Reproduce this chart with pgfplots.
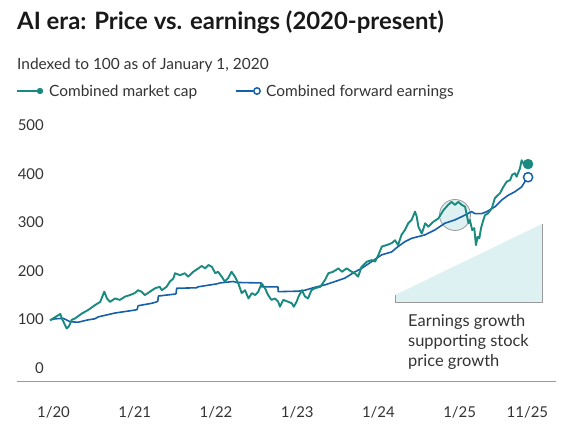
\documentclass[border=0pt]{standalone}
\usepackage{pgfplots}
\pgfplotsset{compat=1.18}
\usepackage{fontspec}
\setmainfont{Lato}
\definecolor{mgreen}{HTML}{1A8A7F}
\definecolor{mblue}{HTML}{1660A9}
\definecolor{tri}{HTML}{DDF0F2}
\definecolor{lgray}{HTML}{9A9A9A}
\definecolor{txt}{HTML}{333333}
\begin{document}
\begin{tikzpicture}
\useasboundingbox (-17bp,-48bp) rectangle (555bp,381bp);
% highlight circle and triangle (behind the lines)
\fill[tri] (378bp,86bp) -- (525bp,157bp) -- (525bp,79bp) -- (378bp,79bp) -- cycle;
\draw[lgray, line width=0.8bp] (378bp,86bp) -- (378bp,79bp) -- (525bp,79bp) -- (525bp,157bp);
\draw[lgray, fill=tri, line width=0.8bp] (438bp,166bp) circle[radius=15.5bp];
\begin{axis}[
  at={(0,0)}, anchor=south west,
  x=6.77bp, y=0.485bp,
  xmin=-5.39, xmax=74.2, ymin=-27.2, ymax=521,
  axis x line*=bottom, axis y line*=left,
  x axis line style={lgray, line width=0.8bp, -},
  y axis line style={draw=none},
  major tick length=0pt,
  xtick={0,12,24,36,48,60,70},
  xticklabels={1/20,1/21,1/22,1/23,1/24,1/25,11/25},
  ytick={0,100,200,300,400,500},
  yticklabels={0,100,200,300,400,500},
  ticklabel style={font=\fontsize{15}{18}\selectfont, text=txt, inner sep=0pt},
  xticklabel style={anchor=base, yshift=-36bp},
  yticklabel style={anchor=base east, xshift=27bp, yshift=-5.5bp},
  clip=false,
]
\addplot[mblue, line width=1.6bp, line join=round] coordinates {
(-0.5,98.6) (0.2,101) (1.45,102) (2.45,95) (3.65,94) (5.15,99) (6.1,101) (6.6,105) (9.1,113) (12.0,119) (12.35,120) (12.5,128) (14.5,133) (15.25,136) (15.4,137) (15.5,148) (17.95,152) (18.1,153) (18.2,164) (21.15,165) (21.35,167) (24.1,173) (24.6,175) (26.55,178) (27.05,176) (30.5,175) (30.65,175) (30.75,167) (32.95,167) (33.15,167) (33.2,157) (36.15,158) (37.15,160) (38.6,166) (40.1,171) (41.6,178) (43.05,185) (44.55,198) (45.5,205) (47.0,219) (48.5,233) (49.95,239) (50.9,250) (51.9,260) (52.9,267) (54.85,274) (56.3,284) (57.8,298) (59.3,305) (60.8,315) (61.75,322) (62.25,318) (63.25,318) (64.0,322) (65.2,332) (66.2,346) (67.2,356) (68.15,363) (69.15,373) (69.65,384) (70.1,393)
};
\addplot[mgreen, line width=1.9bp, line join=round] coordinates {
(-0.5,98) (0.2,104) (1.0,111) (1.3,100) (1.95,81) (2.3,86) (2.7,99) (3.2,102) (4.2,112) (5.1,119) (6.1,129) (6.9,136) (7.5,157) (7.9,143) (8.35,136) (9.1,143) (9.8,140) (10.6,147) (11.3,150) (12.0,154) (12.5,160) (13.0,157) (13.5,150) (14.25,157) (15.0,164) (15.7,167) (16.0,160) (16.7,167) (17.2,178) (17.7,184) (17.95,195) (18.7,191) (19.4,195) (19.9,188) (20.65,198) (21.4,205) (21.9,210) (22.4,205) (22.9,212) (23.4,208) (23.9,195) (24.3,198) (24.85,188) (25.3,178) (25.8,185) (26.3,198) (26.8,188) (27.3,174) (27.8,154) (28.3,160) (28.8,143) (29.3,154) (29.8,150) (30.25,157) (30.75,174) (31.25,164) (31.7,150) (32.2,140) (32.7,143) (33.2,136) (33.45,126) (33.95,140) (34.7,136) (35.2,133) (35.5,126) (35.9,136) (36.2,147) (36.7,160) (37.15,147) (37.6,143) (38.1,160) (38.6,164) (39.4,167) (40.1,181) (40.6,195) (41.3,198) (42.1,205) (42.6,198) (43.3,205) (44.05,198) (44.5,195) (45.0,188) (45.5,208) (46.3,219) (47.0,222) (47.5,219) (48.0,233) (48.5,250) (49.2,253) (49.95,257) (50.45,263) (50.9,253) (51.4,274) (51.9,284) (52.4,298) (52.9,305) (53.4,322) (53.65,312) (53.9,291) (54.4,277) (54.9,298) (55.35,291) (56.1,301) (56.85,308) (57.6,325) (58.3,336) (58.8,342) (59.3,336) (59.8,342) (60.3,336) (60.8,332) (61.0,318) (61.3,298) (61.5,305) (61.85,284) (62.15,288) (62.4,253) (62.65,270) (62.9,267) (63.15,288) (63.5,305) (63.75,315) (64.15,318) (64.75,329) (65.2,350) (65.95,360) (66.45,373) (66.95,384) (67.45,387) (67.75,398) (68.15,401) (68.4,394) (68.9,411) (69.15,428) (69.55,418) (70.1,420)
};
\addplot[only marks, mark=*, mark size=5bp, mgreen] coordinates {(70.1,420)};
\addplot[only marks, mark=*, mark size=4.6bp, mblue, line width=1.5bp, fill=white, mark options={fill=white}] coordinates {(70.1,393)};
\end{axis}
% titles
\node[anchor=base west, inner sep=0pt, text=black!90] at (0bp,351bp) {\fontsize{24}{28}\selectfont\bfseries AI era: Price vs. earnings (2020-present)};
\node[anchor=base west, inner sep=0pt, text=txt] at (0bp,311.5bp) {\fontsize{15.5}{18}\selectfont Indexed to 100 as of January 1, 2020};
% legend
\draw[mgreen, line width=1.8bp] (0bp,290bp) -- (23bp,290bp);
\fill[mgreen] (23bp,290bp) circle[radius=3.2bp];
\node[anchor=base west, inner sep=0pt, text=txt] at (32bp,284.5bp) {\fontsize{15.5}{18}\selectfont Combined market cap};
\draw[mblue, line width=1.5bp] (219bp,290bp) -- (236bp,290bp);
\draw[mblue, fill=white, line width=1.5bp] (240bp,290bp) circle[radius=3.2bp];
\node[anchor=base west, inner sep=0pt, text=txt] at (249bp,284.5bp) {\fontsize{15.5}{18}\selectfont Combined forward earnings};
% annotation
\node[anchor=base west, inner sep=0pt, text=txt] at (391bp,54.3bp) {\fontsize{16.5}{20}\selectfont Earnings growth};
\node[anchor=base west, inner sep=0pt, text=txt] at (391bp,34.3bp) {\fontsize{16.5}{20}\selectfont supporting stock};
\node[anchor=base west, inner sep=0pt, text=txt] at (391bp,14.3bp) {\fontsize{16.5}{20}\selectfont price growth};
\end{tikzpicture}
\end{document}
